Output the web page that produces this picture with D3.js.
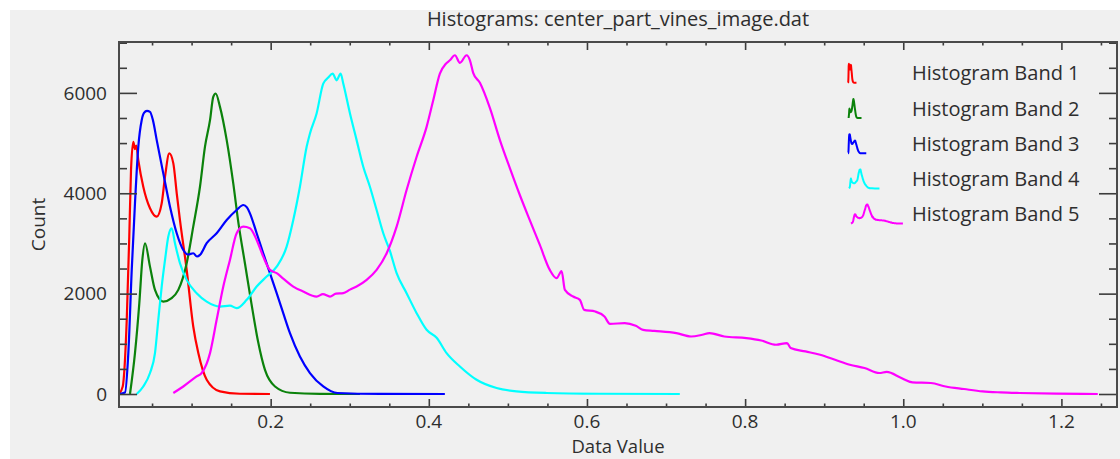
<!DOCTYPE html>
<html>
<head>
<meta charset="utf-8">
<script src="https://cdn.jsdelivr.net/npm/d3@7"></script>
<style>
  html, body { margin: 0; padding: 0; background: #ffffff; }
  svg { display: block; }
  text { font-family: "Open Sans", "Noto Sans", sans-serif; fill: #2e2e2e; }
</style>
</head>
<body>
<svg id="chart" width="1120" height="459"></svg>
<script>
// Histogram counts per band: [data value, count]
const band1 = [[0.0082,0],[0.0129,150],[0.018,1478],[0.0212,3135],[0.0234,4462],[0.0263,5025],[0.0284,4880],[0.0300,4950],
  [0.0326,4660],[0.0389,4130],[0.0474,3700],[0.0559,3533],[0.0622,3800],[0.0664,4330],[0.0718,4794],[0.0769,4595],
  [0.0812,4000],[0.0853,3467],[0.0938,2473],[0.1021,1345],[0.1085,815],[0.1191,284],[0.1359,52],[0.1612,5],[0.1991,0]];

const band2 = [[0.0221,0],[0.0284,815],[0.0339,1810],[0.0377,2671],[0.0411,3004],[0.0474,2538],[0.0537,2075],[0.0642,1842],
  [0.0748,1910],[0.0832,2075],[0.0938,2606],[0.1021,3334],[0.1106,4130],[0.1169,4925],[0.1233,5456],[0.1274,5920],
  [0.1305,5988],[0.1359,5721],[0.1444,5059],[0.1527,4197],[0.1593,3400],[0.1675,2600],[0.1757,1800],[0.1840,1050],
  [0.1928,480],[0.2055,150],[0.2244,25],[0.2623,2],[0.3129,0]];

const band3 = [[0.0082,0],[0.0158,30],[0.0200,815],[0.0243,2473],[0.0284,3800],[0.0326,4925],[0.0369,5456],[0.0398,5600],
  [0.0436,5640],[0.0474,5622],[0.0512,5450],[0.0559,5059],[0.0642,4396],[0.0727,3732],[0.0812,3203],[0.0895,2870],
  [0.0954,2780],[0.1021,2805],[0.1068,2740],[0.1106,2771],[0.1191,3004],[0.1317,3203],[0.1444,3467],[0.1570,3666],
  [0.1654,3766],[0.1700,3720],[0.1738,3600],[0.1823,3203],[0.1906,2805],[0.1991,2407],[0.2076,2009],[0.2159,1611],
  [0.2244,1213],[0.2370,748],[0.2497,418],[0.2665,151],[0.2845,20],[0.3382,2],[0.4203,0]];

const band4 = [[0.0306,0],[0.0389,150],[0.0474,418],[0.0537,815],[0.0579,1478],[0.0622,2141],[0.0664,2671],[0.0705,3135],
  [0.0748,3302],[0.0790,3004],[0.0853,2606],[0.0938,2274],[0.1064,2009],[0.1191,1842],[0.1359,1743],[0.1485,1760],
  [0.1570,1711],[0.1697,1876],[0.1823,2141],[0.1949,2340],[0.2076,2538],[0.2202,2936],[0.2286,3467],[0.2370,4130],
  [0.2455,4925],[0.2497,5192],[0.2581,5590],[0.2665,6186],[0.2725,6300],[0.2784,6385],[0.2834,6250],[0.2885,6385],
  [0.2918,6186],[0.3003,5590],[0.3087,5059],[0.3171,4528],[0.3255,4130],[0.3340,3666],[0.3424,3203],[0.3508,2850],
  [0.3593,2407],[0.3719,2009],[0.3846,1611],[0.3972,1279],[0.4099,1120],[0.4225,815],[0.4393,549],[0.4604,284],
  [0.4857,119],[0.5110,52],[0.5489,20],[0.6163,5],[0.7174,0]];

const band5 = [[0.0769,20],[0.0895,150],[0.1064,350],[0.1128,418],[0.1233,815],[0.1317,1478],[0.1401,2141],[0.1485,2671],
  [0.1570,3203],[0.1654,3334],[0.1738,3302],[0.1823,3069],[0.1906,2737],[0.1991,2473],[0.2076,2407],[0.2159,2300],
  [0.2286,2141],[0.2412,2042],[0.2581,1942],[0.2661,1990],[0.2750,1942],[0.2826,2000],[0.2918,2009],[0.3003,2080],
  [0.3087,2141],[0.3214,2274],[0.3340,2473],[0.3467,2805],[0.3593,3334],[0.3719,4064],[0.3846,4727],[0.3972,5323],
  [0.4056,5854],[0.4140,6385],[0.4216,6580],[0.4267,6650],[0.4330,6750],[0.4393,6600],[0.4478,6750],[0.4520,6650],
  [0.4561,6400],[0.4646,6200],[0.4772,5700],[0.4899,5060],[0.5025,4500],[0.5152,3960],[0.5278,3460],[0.5404,2970],
  [0.5530,2473],[0.5616,2307],[0.5679,2450],[0.5721,2075],[0.5826,1942],[0.5910,1876],[0.5965,1677],[0.6105,1643],
  [0.6221,1544],[0.6291,1398],[0.6478,1412],[0.6617,1359],[0.6710,1279],[0.6851,1259],[0.7130,1213],[0.7317,1146],
  [0.7458,1180],[0.7550,1213],[0.7737,1146],[0.8016,1114],[0.8203,1066],[0.8391,981],[0.8530,1015],[0.8576,915],
  [0.8764,848],[0.8949,782],[0.9137,682],[0.9324,583],[0.9510,517],[0.9697,418],[0.9790,440],[0.9976,318],
  [1.0116,231],[1.0349,219],[1.0536,150],[1.0769,99],[1.1003,52],[1.1233,32],[1.1469,20],[1.1936,6],[1.2460,0]];

const bandNames = ["Histogram Band 1", "Histogram Band 2", "Histogram Band 3", "Histogram Band 4", "Histogram Band 5"];
const bandColors = ["#ff0000", "#0b820b", "#0000ff", "#00ffff", "#ff00ff"];
const bands = [band1, band2, band3, band4, band5];

const xDomain = [0.0082, 1.2703];
const yDomain = [-259, 7014];
const xMajorTicks = [0.2, 0.4, 0.6, 0.8, 1.0, 1.2];
const yMajorTicks = [0, 2000, 4000, 6000];
const titleText = "Histograms: center_part_vines_image.dat";
const xLabel = "Data Value";
const yLabel = "Count";

const svg = d3.select("#chart");
const W = 1120, H = 459;
const plot = { left: 119, right: 1117, top: 42, bottom: 407 };
const fontSize = 20;

svg.append("rect").attr("x", 10).attr("y", 10).attr("width", W - 10).attr("height", H - 10).attr("fill", "#f0f0f0");

const x = d3.scaleLinear().domain(xDomain).range([plot.left, plot.right]);
const y = d3.scaleLinear().domain(yDomain).range([plot.bottom, plot.top]);

const xMinor = d3.range(1, 26).map(i => i * 0.05).filter(v => v >= xDomain[0] && v <= xDomain[1]);
const yMinor = d3.range(0, 15).map(i => i * 500).filter(v => v >= yDomain[0] && v <= yDomain[1]);
const isMajorX = v => xMajorTicks.some(m => Math.abs(m - v) < 1e-6);
const isMajorY = v => yMajorTicks.includes(v);

// Clip curves to the plotting frame
svg.append("clipPath").attr("id", "plotClip").append("rect")
  .attr("x", plot.left).attr("y", plot.top)
  .attr("width", plot.right - plot.left).attr("height", plot.bottom - plot.top);

// Curves
const line = d3.line().x(d => x(d[0])).y(d => y(d[1])).curve(d3.curveMonotoneX);
const curves = svg.append("g").attr("clip-path", "url(#plotClip)");
bands.forEach((b, i) => {
  curves.append("path").datum(b).attr("d", line)
    .attr("fill", "none").attr("stroke", bandColors[i])
    .attr("stroke-width", 2.2).attr("stroke-linejoin", "round");
});

// Axes: ticks point into the frame
const axisColor = "#3c3c3c";
const gB = svg.append("g").attr("transform", `translate(0,${plot.bottom})`)
  .call(d3.axisTop(x).tickValues(xMinor).tickFormat("").tickSizeOuter(0).tickSizeInner(0));
gB.selectAll(".tick line").attr("y2", d => isMajorX(d) ? -8 : -3.5);
const gT = svg.append("g").attr("transform", `translate(0,${plot.top})`)
  .call(d3.axisBottom(x).tickValues(xMinor).tickFormat("").tickSizeOuter(0).tickSizeInner(0));
gT.selectAll(".tick line").attr("y2", d => isMajorX(d) ? 8 : 3.5);
const gL = svg.append("g").attr("transform", `translate(${plot.left},0)`)
  .call(d3.axisRight(y).tickValues(yMinor).tickFormat("").tickSizeOuter(0).tickSizeInner(0));
gL.selectAll(".tick line").attr("x2", d => isMajorY(d) ? 18 : 8);
const gR = svg.append("g").attr("transform", `translate(${plot.right},0)`)
  .call(d3.axisLeft(y).tickValues(yMinor).tickFormat("").tickSizeOuter(0).tickSizeInner(0));
gR.selectAll(".tick line").attr("x2", d => isMajorY(d) ? -18 : -8);
[gB, gT, gL, gR].forEach(g => {
  g.select(".domain").remove();
  g.selectAll(".tick line").attr("stroke", axisColor).attr("stroke-width", 1.6);
});

// Frame
svg.append("rect").attr("x", plot.left).attr("y", plot.top)
  .attr("width", plot.right - plot.left).attr("height", plot.bottom - plot.top)
  .attr("fill", "none").attr("stroke", "#4a4a4a").attr("stroke-width", 2);

// Tick labels
svg.append("g").selectAll("text").data(xMajorTicks).join("text")
  .attr("x", d => x(d)).attr("y", 428).attr("text-anchor", "middle")
  .attr("font-size", 19).text(d => d3.format(".1f")(d));
svg.append("g").selectAll("text").data(yMajorTicks).join("text")
  .attr("x", 107).attr("y", d => y(d)).attr("dy", "0.35em").attr("text-anchor", "end")
  .attr("font-size", 19).text(d => d);

// Title and axis titles
svg.append("text").attr("x", (plot.left + plot.right) / 2).attr("y", 26)
  .attr("text-anchor", "middle").attr("font-size", fontSize).text(titleText);
svg.append("text").attr("x", (plot.left + plot.right) / 2).attr("y", 453.4)
  .attr("text-anchor", "middle").attr("font-size", 18.5).text(xLabel);
svg.append("text").attr("transform", `translate(45,${(plot.top + plot.bottom) / 2}) rotate(-90)`)
  .attr("text-anchor", "middle").attr("font-size", 19).text(yLabel);

// Legend: each entry shows a thumbnail of its own histogram
const legend = svg.append("g");
const iconX = d3.scaleLinear().domain(xDomain).range([848, 904]);
bands.forEach((b, i) => {
  const cy = 73.3 + 35.2 * i;
  const maxC = d3.max(b, d => d[1]);
  const iconY = d3.scaleLinear().domain([0, maxC]).range([cy + 9.5, cy - 9.5]);
  legend.append("path").datum(b)
    .attr("d", d3.line().x(d => iconX(d[0])).y(d => iconY(d[1])).curve(d3.curveMonotoneX))
    .attr("fill", "none").attr("stroke", bandColors[i]).attr("stroke-width", 2)
    .attr("stroke-linejoin", "round");
  legend.append("text").attr("x", 912).attr("y", cy).attr("dy", "0.35em")
    .attr("font-size", fontSize).text(bandNames[i]);
});
</script>
</body>
</html>
